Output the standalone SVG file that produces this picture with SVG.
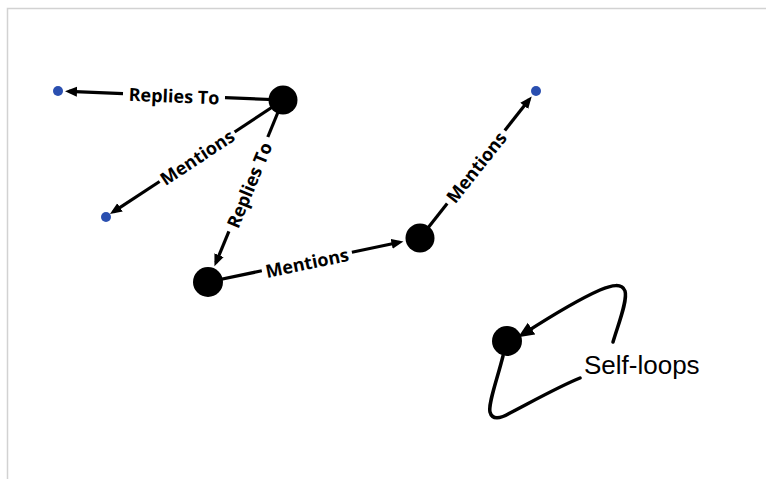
<svg xmlns="http://www.w3.org/2000/svg" width="766" height="479" viewBox="0 0 766 479">
<defs>
<style>
.edge{fill:none;stroke:#000;stroke-width:3.2;}
.loop{fill:none;stroke:#000;stroke-width:3.5;stroke-linecap:round;}
.lbl{font-family:"Open Sans","Liberation Sans",sans-serif;font-weight:700;font-size:18px;fill:#000;text-anchor:middle;dominant-baseline:central;}
.big{fill:#000;}
.small{fill:#2a4fb0;}
.note{font-family:"Liberation Sans",Arial,sans-serif;font-size:26px;fill:#000;}
</style>
<marker id="arr" markerUnits="userSpaceOnUse" markerWidth="13" markerHeight="11" refX="8" refY="5" orient="auto" viewBox="0 0 13 10">
<path d="M0,0 L12,5 L0,10 z" fill="#000"/>
</marker>
<marker id="arr2" markerUnits="userSpaceOnUse" markerWidth="17" markerHeight="15" refX="9" refY="7" orient="auto" viewBox="0 0 17 14">
<path d="M0,0 L16,7 L0,14 z" fill="#000"/>
</marker>
</defs>
<rect width="766" height="479" fill="#fff"/>
<path d="M7.5,479 V8.5 H766" fill="none" stroke="#d2d2d2" stroke-width="1.5"/>
<g id="connectors">
<g id="e-b-a">
<path class="edge" d="M283,100 L225,97.7"/>
<path class="edge" d="M123,93.6 L69,91.4" marker-end="url(#arr)"/>
<text class="lbl" transform="translate(174,95.6) rotate(2.3)">Replies To</text>
</g>
<g id="e-b-c">
<path class="edge" d="M283,100 L234.6,132"/>
<path class="edge" d="M159.6,181.5 L113.3,211.8" marker-end="url(#arr)"/>
<text class="lbl" transform="translate(197,157) rotate(-33.5)">Mentions</text>
</g>
<g id="e-b-d">
<path class="edge" d="M283,100 L267.8,137"/>
<path class="edge" d="M228.9,231.4 L216,262.6" marker-end="url(#arr)"/>
<text class="lbl" transform="translate(249,185) rotate(-67.6)">Replies To</text>
</g>
<g id="e-d-e">
<path class="edge" d="M208,282 L261.8,270.8"/>
<path class="edge" d="M351.9,252.2 L399.5,242.3" marker-end="url(#arr)"/>
<text class="lbl" transform="translate(307,262.5) rotate(-11.7)">Mentions</text>
</g>
<g id="e-e-f">
<path class="edge" d="M420,238 L447.2,203.5"/>
<path class="edge" d="M504.8,130.5 L529.2,99.6" marker-end="url(#arr)"/>
<text class="lbl" transform="translate(476,167) rotate(-51.7)">Mentions</text>
</g>
<g id="e-self">
<path class="loop" d="M503,356 C497,380 488,404 490,412 C492,420 500,419 510,413 C535,400 560,386 580,378"/>
<path class="loop" d="M613,342 C618,325 628,300 625,291 C622,283 612,285 600,290 C575,301 545,320 524,333.5" marker-end="url(#arr2)"/>
</g>
</g>
<g id="node-a"><circle class="small" cx="58" cy="91" r="5"/></g>
<g id="node-b"><circle class="big" cx="283" cy="100" r="14.5"/></g>
<g id="node-c"><circle class="small" cx="106" cy="217" r="5"/></g>
<g id="node-d"><circle class="big" cx="208" cy="282" r="15"/></g>
<g id="node-e"><circle class="big" cx="420" cy="238" r="14.5"/></g>
<g id="node-f"><circle class="small" cx="536" cy="91" r="5"/></g>
<g id="node-g"><circle class="big" cx="507" cy="341" r="15"/></g>
<g id="note"><text class="note" x="584" y="374">Self-loops</text></g>
</svg>
